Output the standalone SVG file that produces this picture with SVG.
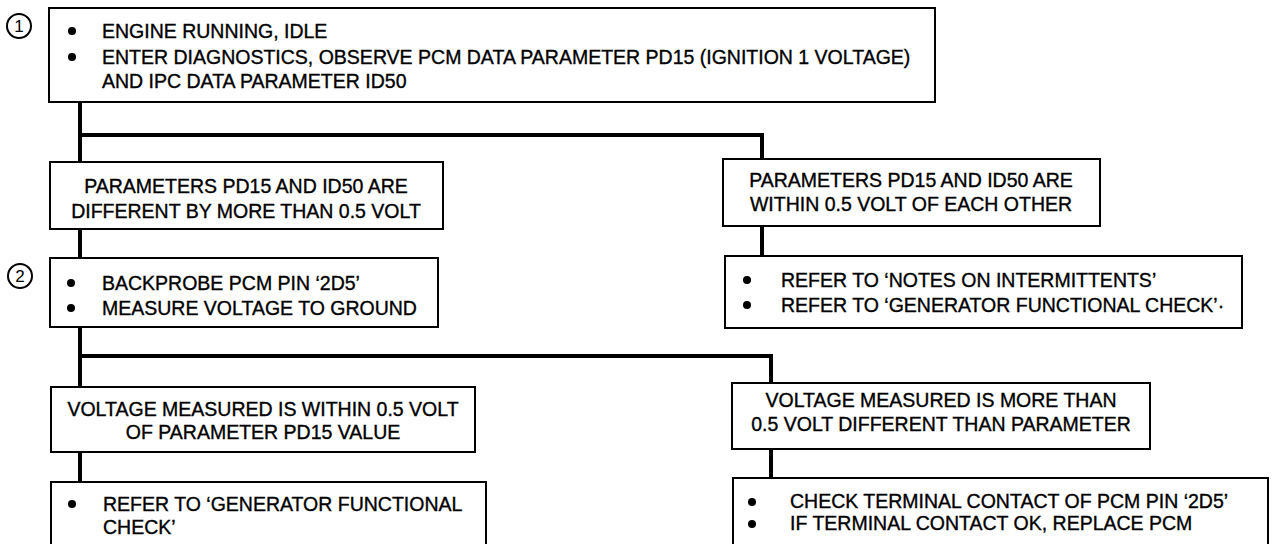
<svg xmlns="http://www.w3.org/2000/svg" width="1272" height="544" viewBox="0 0 1272 544">
<style>
.box{fill:#fff;stroke:#000;stroke-width:2}
.t{font-family:"Liberation Sans",Arial,sans-serif;font-size:19.5px;fill:#000;stroke:#000;stroke-width:0.35}
.c{text-anchor:middle}
.conn{fill:none;stroke:#000;stroke-width:4}
.dot{fill:#000}
.circ{fill:#fff;stroke:#000;stroke-width:2}
.num{font-family:"Liberation Sans",Arial,sans-serif;font-size:17px;fill:#000;text-anchor:middle}
</style>
<rect width="1272" height="544" fill="#fff"/>
<g id="connectors">
<path class="conn" d="M80,102 V482"/>
<path class="conn" d="M78,135 H762 V160"/>
<path class="conn" d="M762,226 V257"/>
<path class="conn" d="M78,356 H771 V383"/>
<path class="conn" d="M771,449 V478"/>
</g>
<g id="step1">
<circle class="circ" cx="19" cy="26" r="12"/>
<text class="num" x="19" y="32">1</text>
</g>
<g id="n1">
<rect class="box" x="49" y="8" width="886" height="94"/>
<circle class="dot" cx="72" cy="31" r="4"/>
<circle class="dot" cx="72" cy="57" r="4"/>
<text class="t" x="102" y="38">ENGINE RUNNING, IDLE</text>
<text class="t" x="102" y="64">ENTER DIAGNOSTICS, OBSERVE PCM DATA PARAMETER PD15 (IGNITION 1 VOLTAGE)</text>
<text class="t" x="102" y="88">AND IPC DATA PARAMETER ID50</text>
</g>
<g id="n2">
<rect class="box" x="50" y="162" width="393" height="67"/>
<text class="t c" x="246" y="193">PARAMETERS PD15 AND ID50 ARE</text>
<text class="t c" x="246" y="218">DIFFERENT BY MORE THAN 0.5 VOLT</text>
</g>
<g id="n3">
<rect class="box" x="723" y="159" width="377" height="67"/>
<text class="t c" x="911" y="187">PARAMETERS PD15 AND ID50 ARE</text>
<text class="t c" x="911" y="211">WITHIN 0.5 VOLT OF EACH OTHER</text>
</g>
<g id="step2">
<circle class="circ" cx="20" cy="276" r="12"/>
<text class="num" x="20" y="282">2</text>
</g>
<g id="n4">
<rect class="box" x="50" y="258" width="388" height="69"/>
<circle class="dot" cx="71" cy="283" r="4"/>
<circle class="dot" cx="71" cy="308" r="4"/>
<text class="t" x="102" y="290">BACKPROBE PCM PIN ‘2D5’</text>
<text class="t" x="102" y="315">MEASURE VOLTAGE TO GROUND</text>
</g>
<g id="n5">
<rect class="box" x="725" y="256" width="517" height="72"/>
<circle class="dot" cx="747" cy="280" r="4"/>
<circle class="dot" cx="747" cy="305" r="4"/>
<text class="t" x="781" y="287">REFER TO ‘NOTES ON INTERMITTENTS’</text>
<text class="t" x="781" y="312">REFER TO ‘GENERATOR FUNCTIONAL CHECK’·</text>
</g>
<g id="n6">
<rect class="box" x="51" y="387" width="424" height="65"/>
<text class="t c" x="263" y="416">VOLTAGE MEASURED IS WITHIN 0.5 VOLT</text>
<text class="t c" x="263" y="439">OF PARAMETER PD15 VALUE</text>
</g>
<g id="n7">
<rect class="box" x="732" y="383" width="418" height="66"/>
<text class="t c" x="941" y="407">VOLTAGE MEASURED IS MORE THAN</text>
<text class="t c" x="941" y="431">0.5 VOLT DIFFERENT THAN PARAMETER</text>
</g>
<g id="n8">
<rect class="box" x="51" y="482" width="435" height="80"/>
<circle class="dot" cx="72" cy="504" r="4"/>
<text class="t" x="103" y="511">REFER TO ‘GENERATOR FUNCTIONAL</text>
<text class="t" x="103" y="534">CHECK’</text>
</g>
<g id="n9">
<rect class="box" x="733" y="478" width="535" height="84"/>
<circle class="dot" cx="752" cy="502" r="4"/>
<circle class="dot" cx="752" cy="524" r="4"/>
<text class="t" x="790" y="508">CHECK TERMINAL CONTACT OF PCM PIN ‘2D5’</text>
<text class="t" x="790" y="530">IF TERMINAL CONTACT OK, REPLACE PCM</text>
</g>
</svg>
